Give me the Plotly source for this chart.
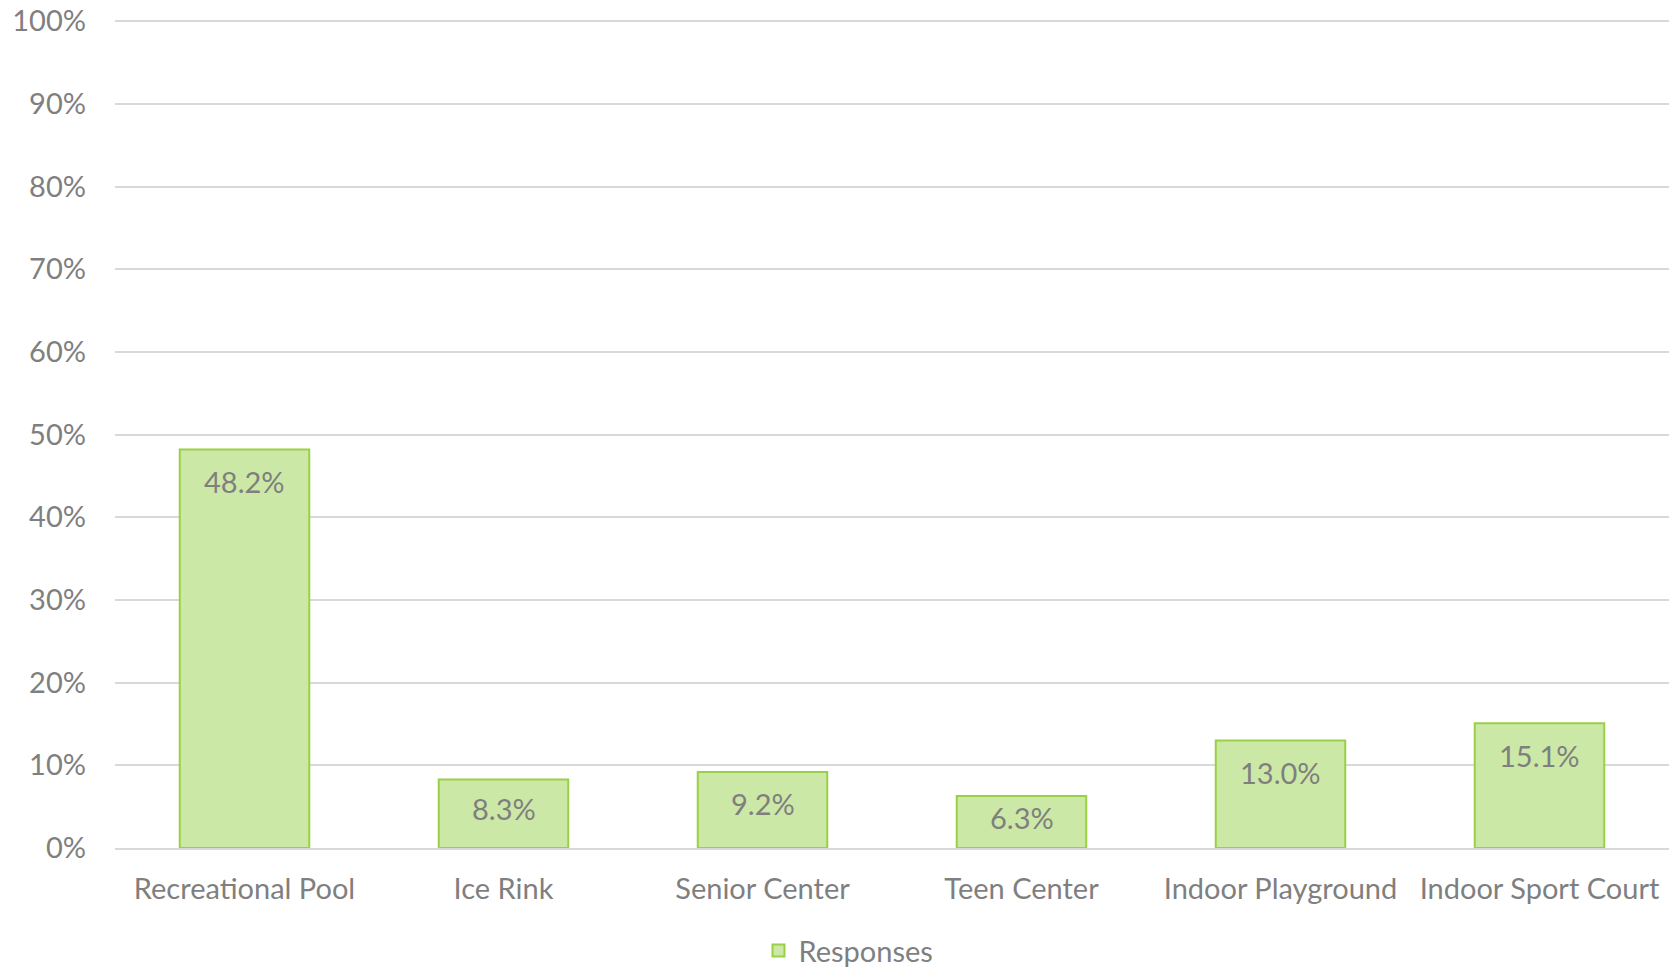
import plotly.graph_objects as go

# Facility preference survey results
categories = ["Recreational Pool", "Ice Rink", "Senior Center", "Teen Center",
              "Indoor Playground", "Indoor Sport Court"]
responses = [0.482, 0.083, 0.092, 0.063, 0.130, 0.151]
y_ticks = [i / 10 for i in range(11)]
y_tick_labels = [f"{i * 10}%" for i in range(11)]

text_gray = "#7f7f7f"
font_family = "Lato, 'Open Sans', sans-serif"
font_size = 29

width, height = 1672, 967
margin = dict(l=115, r=3, t=20, b=119)
plot_h = height - margin["t"] - margin["b"]

fig = go.Figure()
fig.add_trace(go.Bar(
    x=categories,
    y=responses,
    name="Responses",
    width=0.5,
    marker=dict(color="#cce8a6", line=dict(color="#9bcf45", width=2)),
    cliponaxis=False,
))

# value labels near the top of each bar; short bars keep the label inside
for cat, val in zip(categories, responses):
    bar_px = val * plot_h
    fig.add_annotation(
        x=cat, y=val, xref="x", yref="y",
        text=f"{val * 100:.1f}%",
        showarrow=False,
        yanchor="middle", yshift=-min(32, 0.42 * bar_px),
        font=dict(family=font_family, size=font_size, color=text_gray),
    )

fig.update_layout(
    width=width,
    height=height,
    margin=dict(**margin, autoexpand=False),
    paper_bgcolor="white",
    plot_bgcolor="white",
    font=dict(family=font_family, size=font_size, color=text_gray),
    showlegend=True,
    legend=dict(
        orientation="h",
        x=0.472, xanchor="center",
        yref="container",
        y=0.017, yanchor="middle",
        font=dict(family=font_family, size=font_size, color=text_gray),
    ),
    bargap=0.5,
    xaxis=dict(
        showgrid=False,
        showline=True,
        linecolor="#d9d9d9",
        linewidth=2,
        ticks="",
        automargin=False,
        tickfont=dict(size=font_size, color=text_gray),
        ticklabelstandoff=14,
    ),
    yaxis=dict(
        range=[0, 1.0015],
        tickvals=y_ticks,
        ticktext=y_tick_labels,
        showgrid=True,
        gridcolor="#d9d9d9",
        gridwidth=1.5,
        zeroline=False,
        showline=False,
        ticks="",
        automargin=False,
        ticklabelstandoff=28,
        tickfont=dict(size=font_size, color=text_gray),
    ),
)

fig.write_html("out.html")
